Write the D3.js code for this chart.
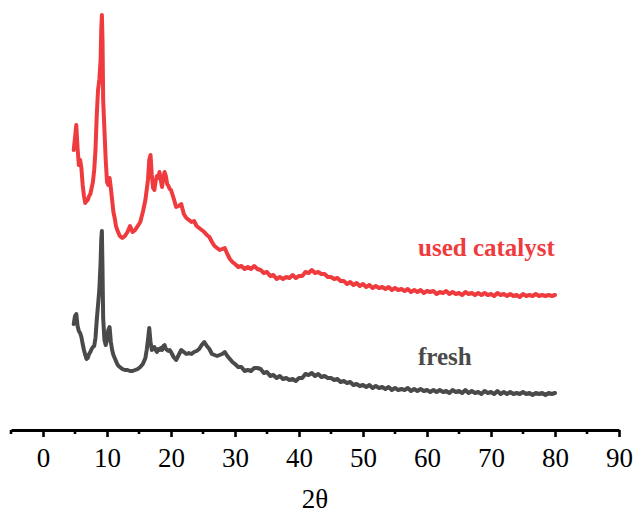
<!DOCTYPE html>
<html>
<head>
<meta charset="utf-8">
<script src="https://cdn.jsdelivr.net/npm/d3@7/dist/d3.min.js"></script>
<style>
  html, body { margin: 0; padding: 0; background: #ffffff; }
  svg { display: block; }
</style>
</head>
<body>
<div id="chart"></div>
<script>
// ---- data (2θ in degrees, intensity in a.u.) ----
const theta = [
  4.8, 5.0, 5.2, 5.4, 5.6, 5.8, 6.0, 6.2, 6.4, 6.6,
  6.8, 7.0, 7.2, 7.4, 7.6, 7.8, 8.0, 8.2, 8.4, 8.6,
  8.8, 9.0, 9.1, 9.2, 9.3, 9.4, 9.6, 9.8, 10.0, 10.2,
  10.4, 10.6, 10.8, 11.0, 11.2, 11.4, 11.6, 11.8, 12.0, 12.4,
  12.8, 13.2, 13.6, 14.0, 14.4, 14.8, 15.2, 15.6, 16.0, 16.2,
  16.4, 16.6, 16.8, 17.0, 17.2, 17.4, 17.6, 17.8, 18.0, 18.2,
  18.4, 18.6, 18.8, 19.0, 19.2, 19.4, 19.6, 19.8, 20.0, 20.4,
  20.8, 21.2, 21.6, 22.0, 22.4, 22.8, 23.2, 23.6, 24.0, 24.4,
  24.8, 25.2, 25.6, 26.0, 26.4, 26.8, 27.2, 27.6, 28.0, 28.4,
  28.8, 29.2, 29.6, 30.0, 30.5, 31, 31.5, 32, 32.5, 33,
  33.5, 34, 34.5, 35, 35.5, 36, 36.5, 37, 37.5, 38,
  38.5, 39, 39.5, 40, 40.5, 41, 41.5, 42, 42.5, 43,
  43.5, 44, 44.5,
  45, 45.5, 46, 46.5, 47, 47.5, 48, 48.5, 49, 49.5,
  50, 50.5, 51, 51.5, 52, 52.5, 53, 53.5, 54, 54.5,
  55, 55.5, 56, 56.5, 57, 57.5, 58, 58.5, 59, 59.5,
  60, 60.5, 61, 61.5, 62, 62.5, 63, 63.5, 64, 64.5,
  65, 65.5, 66, 66.5, 67, 67.5, 68, 68.5, 69, 69.5,
  70, 70.5, 71, 71.5, 72, 72.5, 73, 73.5, 74, 74.5,
  75, 75.5, 76, 76.5, 77, 77.5, 78, 78.5, 79, 79.5,
  80
];

const usedCatalyst = [
  280, 292, 305, 282, 265, 270, 262, 245, 234, 227,
  229, 230, 234, 236, 242, 248, 260, 280, 315, 340,
  350, 370, 400, 415, 390, 330, 300, 270, 248, 245,
  252, 242, 230, 218, 212, 204, 200, 197, 194, 192,
  194, 198, 204, 198, 200, 204, 208, 218, 230, 240,
  250, 270, 275, 255, 242, 240, 249, 254, 252, 258,
  250, 243, 252, 258, 254, 246, 244, 241, 240, 232,
  223, 224, 226, 216, 212, 210, 208, 209, 204, 202,
  200, 198, 195, 193, 188, 184, 182, 180, 181, 182,
  176, 171, 168, 166, 163, 164, 161, 163, 161, 164,
  161, 160, 157, 158, 154, 155, 151, 153, 151, 153,
  152, 155, 152, 154, 154, 158, 157, 160, 157, 158,
  156, 156, 153,
  153, 151, 152, 149, 149, 146, 148, 145, 147, 144,
  146, 143, 145, 142, 144, 142, 143, 141, 143, 140,
  142, 140, 141, 139, 141, 138, 140, 138, 140, 137,
  139, 138, 139, 136, 138, 137, 139, 136, 138, 136,
  137, 135, 138, 136, 137, 135, 137, 135, 137, 135,
  136, 134, 137, 135, 136, 134, 136, 134, 135, 133,
  136, 134, 135, 134, 136, 134, 135, 134, 135, 134,
  135
];

const fresh = [
  106, 114, 116, 104, 99, 97, 93, 86, 80, 75,
  71, 72, 76, 78, 81, 83, 84, 92, 110, 125,
  140, 168, 190, 199, 160, 112, 90, 85, 90, 100,
  103, 88, 80, 75, 72, 69, 66, 64, 63, 61,
  60, 60, 59, 59, 60, 61, 63, 66, 72, 80,
  90, 102, 88, 80, 81, 83, 80, 78, 81, 80,
  82, 80, 84, 85, 81, 80, 79, 80, 78, 73,
  70, 75, 80, 78, 76, 77, 76, 78, 79, 81,
  85, 88, 84, 81, 76, 75, 74, 75, 76, 78,
  74, 71, 68, 66, 63, 63, 59, 60, 59, 62,
  62, 61, 57, 58, 54, 55, 52, 54, 51, 52,
  50, 51, 49, 52, 52, 56, 55, 57, 54, 56,
  53, 54, 52,
  52, 50, 51, 48, 49, 47, 48, 45, 46, 44,
  45, 43, 45, 42, 44, 42, 43, 41, 43, 40,
  42, 40, 41, 40, 42, 39, 41, 39, 41, 39,
  40, 38, 40, 38, 40, 38, 39, 37, 40, 38,
  39, 37, 40, 37, 39, 37, 38, 36, 39, 37,
  38, 36, 39, 36, 38, 36, 38, 36, 37, 36,
  38, 36, 37, 35, 37, 36, 37, 35, 37, 36,
  37
];

const majorTicks = [0, 10, 20, 30, 40, 50, 60, 70, 80, 90];
const minorTicks = [-5, 5, 15, 25, 35, 45, 55, 65, 75, 85];
const seriesNames = ["used catalyst", "fresh"];
const seriesColors = ["#ef3b3e", "#4a4a4a"];
const xAxisTitle = "2θ";

// ---- layout ----
const W = 634, H = 515;
const svg = d3.select("#chart").append("svg")
  .attr("width", W).attr("height", H);

const x = d3.scaleLinear().domain([-5, 90]).range([11, 619]);
const y = d3.scaleLinear().domain([0, 430]).range([430, 0]);

const line = d3.line()
  .x(d => x(d[0]))
  .y(d => y(d[1]));

const series = [usedCatalyst, fresh];
series.forEach((vals, i) => {
  const pts = theta.map((t, k) => [t, vals[k]]);
  svg.append("path")
    .datum(pts)
    .attr("fill", "none")
    .attr("stroke", seriesColors[i])
    .attr("stroke-width", 4)
    .attr("stroke-linejoin", "round")
    .attr("stroke-linecap", "round")
    .attr("d", line);
});

// ---- axis ----
const axisY = 430;
const axis = d3.axisBottom(x)
  .tickValues(majorTicks)
  .tickSize(7)
  .tickSizeOuter(0)
  .tickPadding(11)
  .tickFormat(d3.format("d"));

const gAxis = svg.append("g")
  .attr("transform", `translate(0,${axisY})`)
  .call(axis);

gAxis.select(".domain").attr("stroke", "#000").attr("stroke-width", 3);
gAxis.selectAll(".tick line").attr("stroke", "#000").attr("stroke-width", 2.6);
gAxis.selectAll(".tick text")
  .attr("fill", "#000")
  .style("font-family", "'Liberation Serif', 'Times New Roman', serif")
  .style("font-size", "27px");

gAxis.selectAll(".minor")
  .data(minorTicks)
  .enter().append("line")
  .attr("class", "minor")
  .attr("x1", d => x(d)).attr("x2", d => x(d))
  .attr("y1", 0).attr("y2", 4)
  .attr("stroke", "#000").attr("stroke-width", 2.6);

// axis title
svg.append("text")
  .attr("x", (x.range()[0] + x.range()[1]) / 2)
  .attr("y", 508)
  .attr("text-anchor", "middle")
  .style("font-family", "'Liberation Serif', 'Times New Roman', serif")
  .style("font-size", "27px")
  .attr("fill", "#000")
  .text(xAxisTitle);

// series labels
const labelPos = [[418, 256], [418, 365]];
seriesNames.forEach((name, i) => {
  svg.append("text")
    .attr("x", labelPos[i][0])
    .attr("y", labelPos[i][1])
    .style("font-family", "'Liberation Serif', 'Times New Roman', serif")
    .style("font-size", "25px")
    .style("font-weight", "bold")
    .attr("fill", seriesColors[i])
    .text(name);
});
</script>
</body>
</html>
